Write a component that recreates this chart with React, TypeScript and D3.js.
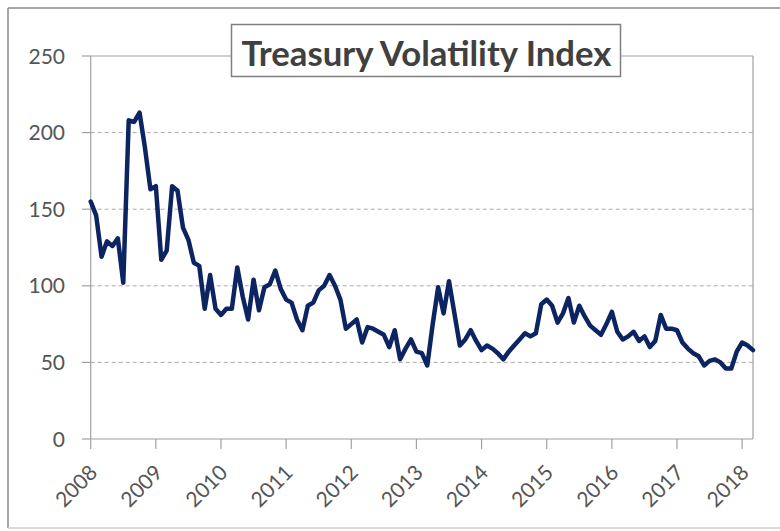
import React from "react";
import * as d3 from "d3";

// Monthly index values, Jan of each year onward
const v2008 = [155, 146, 119, 129, 126, 131, 102, 208, 207, 213, 190, 163];
const v2009 = [165, 117, 123, 165, 162, 138, 130, 115, 113, 85, 107, 85];
const v2010 = [81, 85, 85, 112, 93, 78, 104, 84, 99, 101, 110, 98];
const v2011 = [91, 89, 78, 71, 87, 89, 97, 100, 107, 100, 91, 72];
const v2012 = [75, 78, 63, 73, 72, 70, 68, 60, 71, 52, 59, 65];
const v2013 = [57, 56, 48, 75, 99, 82, 103, 82, 61, 65, 71, 64];
const v2014 = [58, 61, 59, 56, 52, 57, 61, 65, 69, 67, 69, 88];
const v2015 = [91, 87, 76, 82, 92, 76, 87, 80, 74, 71, 68, 75];
const v2016 = [83, 70, 65, 67, 70, 64, 67, 60, 64, 81, 72, 72];
const v2017 = [71, 63, 59, 56, 54, 48, 51, 52, 50, 46, 46, 57];
const v2018 = [63, 61, 58];

const startYear = 2008;
const yearTicks = [2008, 2009, 2010, 2011, 2012, 2013, 2014, 2015, 2016, 2017, 2018];
const valueTicks = [0, 50, 100, 150, 200, 250];
const title = "Treasury Volatility Index";

const values = [
  ...v2008, ...v2009, ...v2010, ...v2011, ...v2012, ...v2013,
  ...v2014, ...v2015, ...v2016, ...v2017, ...v2018,
];
const series = values.map((v, i) => ({ t: startYear + i / 12, v }));

const W = 780;
const H = 531;
const L = 90.7;
const R = 753;
const T = 56;
const B = 439;

export default function App() {
  const x = d3
    .scaleLinear()
    .domain([startYear, startYear + (values.length - 1) / 12])
    .range([L, R]);
  const y = d3.scaleLinear().domain([0, 250]).range([B, T]);
  const line = d3
    .line<{ t: number; v: number }>()
    .x((d) => x(d.t))
    .y((d) => y(d.v));

  const font = "Lato, 'Open Sans', sans-serif";
  const axisCol = "#a0a0a0";
  const textCol = "#555555";

  return (
    <svg
      width={W}
      height={H}
      style={{ position: "absolute", left: 0, top: 0, background: "#fff" }}
    >
      <rect x={0} y={0} width={W} height={H} fill="#fff" />
      {/* outer frame */}
      <line x1={8} y1={8} x2={W} y2={8} stroke="#8a8a8a" strokeWidth={1.5} />
      <line x1={8} y1={8} x2={8} y2={528} stroke="#8a8a8a" strokeWidth={1.5} />
      <line x1={8} y1={528} x2={W} y2={528} stroke="#d0d0d0" strokeWidth={1.5} />

      {/* gridlines */}
      {valueTicks
        .filter((t) => t > 0 && t < 250)
        .map((t) => (
          <line
            key={"g" + t}
            x1={L}
            x2={R}
            y1={y(t)}
            y2={y(t)}
            stroke="#aaaaaa"
            strokeWidth={1}
            strokeDasharray="4,3"
          />
        ))}
      {/* y tick marks */}
      {valueTicks.map((t) => (
        <line key={"yt" + t} x1={82} x2={L} y1={y(t)} y2={y(t)} stroke={axisCol} strokeWidth={1.2} />
      ))}
      {/* plot border top & right */}
      <line x1={L} x2={R} y1={T} y2={T} stroke={axisCol} strokeWidth={1.2} />
      <line x1={R} x2={R} y1={T} y2={B} stroke={axisCol} strokeWidth={1.2} />
      {/* axes */}
      <line x1={L} x2={L} y1={T} y2={B} stroke={axisCol} strokeWidth={1.2} />
      <line x1={L} x2={R} y1={B} y2={B} stroke={axisCol} strokeWidth={1.2} />
      {yearTicks.map((yr) => (
        <line key={"xt" + yr} x1={x(yr)} x2={x(yr)} y1={B} y2={B + 10} stroke={axisCol} strokeWidth={1.2} />
      ))}

      {/* y labels */}
      {valueTicks.map((t) => (
        <text
          key={"yl" + t}
          x={65}
          y={y(t)}
          dy="0.36em"
          textAnchor="end"
          fontFamily={font}
          fontSize={21}
          fill={textCol}
        >
          {t}
        </text>
      ))}
      {/* x labels */}
      {yearTicks.map((yr) => (
        <text
          key={"xl" + yr}
          transform={`translate(${x(yr) + 8},${474}) rotate(-45)`}
          textAnchor="end"
          fontFamily={font}
          fontSize={21}
          fill={textCol}
        >
          {yr}
        </text>
      ))}

      {/* data line */}
      <path
        d={line(series) || ""}
        fill="none"
        stroke="#0c2461"
        strokeWidth={4.5}
        strokeLinejoin="round"
        strokeLinecap="round"
      />

      {/* title box */}
      <rect x={231.5} y={24.5} width={389} height={52} fill="#fff" stroke="#7f7f7f" strokeWidth={1.5} />
      <text
        x={241.5}
        y={66}
        fontFamily={font}
        fontWeight={700}
        fontSize={34}
        fill="#404040"
        textLength={370}
        lengthAdjust="spacingAndGlyphs"
      >
        {title}
      </text>
    </svg>
  );
}
